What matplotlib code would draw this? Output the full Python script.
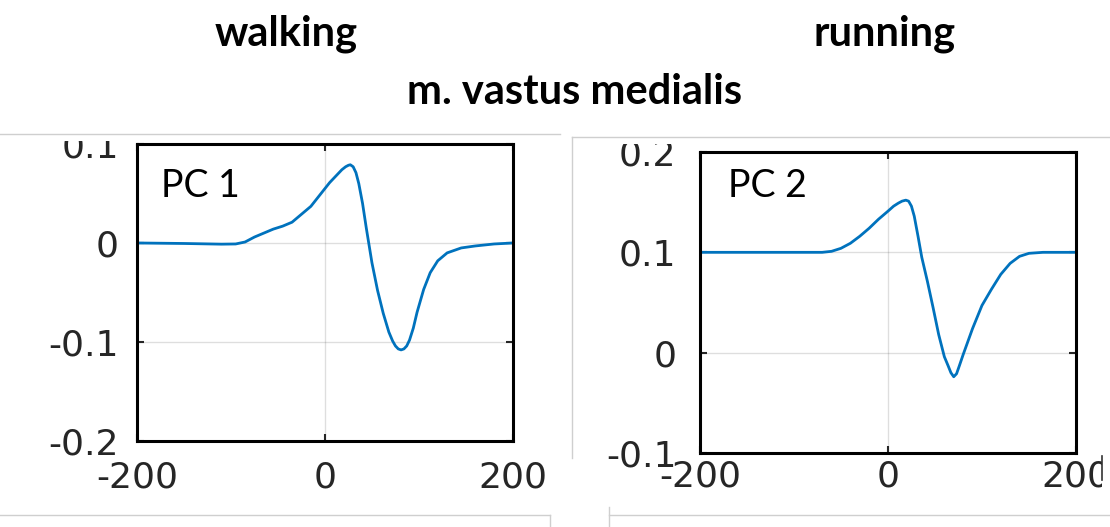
import matplotlib
matplotlib.use("Agg")
import matplotlib.pyplot as plt
from matplotlib.patches import Rectangle
from matplotlib.lines import Line2D

plt.rcParams["font.family"] = ["DejaVu Sans"]

# principal component waveforms, m. vastus medialis
pc1_x = [-200, -150, -110, -95, -85, -75, -65, -55, -45, -35, -25, -15, -5, 5, 12, 18, 22, 25,
         27, 30, 33, 36, 40, 44, 50, 56, 62, 68, 72, 75, 78, 81, 84, 87, 90, 94, 98, 105, 112,
         120, 130, 145, 160, 180, 200]
pc1_y = [0.0, -0.0005, -0.0012, -0.001, 0.001, 0.006, 0.010, 0.014, 0.017, 0.021, 0.029, 0.037,
         0.049, 0.061, 0.068, 0.074, 0.077, 0.0785, 0.079, 0.077, 0.071, 0.060, 0.040, 0.015,
         -0.020, -0.048, -0.071, -0.090, -0.099, -0.104, -0.107, -0.108, -0.107, -0.104, -0.098,
         -0.086, -0.070, -0.047, -0.030, -0.018, -0.010, -0.005, -0.003, -0.001, 0.0]

pc2_x = [-200, -150, -100, -70, -60, -50, -40, -30, -20, -10, 0, 6, 11, 15, 19, 22, 25, 28,
         32, 36, 42, 48, 54, 60, 64, 67, 70, 73, 76, 80, 85, 90, 100, 110, 120, 130, 140, 150,
         165, 180, 200]
pc2_y = [0.1, 0.1, 0.1, 0.1, 0.101, 0.104, 0.109, 0.116, 0.124, 0.133, 0.141, 0.146, 0.149,
         0.151, 0.152, 0.151, 0.146, 0.136, 0.116, 0.095, 0.071, 0.045, 0.018, -0.004, -0.013,
         -0.020, -0.024, -0.021, -0.013, -0.002, 0.011, 0.024, 0.047, 0.063, 0.078, 0.089,
         0.096, 0.099, 0.100, 0.100, 0.100]

pc1_yticks = [-0.2, -0.1, 0, 0.1]
pc1_ylabels = ["-0.2", "-0.1", "0", "0.1"]
pc2_yticks = [-0.1, 0, 0.1, 0.2]
pc2_ylabels = ["-0.1", "0", "0.1", "0.2"]
xticks = [-200, 0, 200]

line_col = "#0072BD"
dark = "#262626"

fig = plt.figure(figsize=(11.1, 5.27), dpi=100)
fig.patch.set_facecolor("white")

ax1 = fig.add_axes([0.1234, 0.1632, 0.3387, 0.5636])
ax2 = fig.add_axes([0.6306, 0.1404, 0.3387, 0.5712])


def style(ax, yticks, ylabels, ypad, xpad):
    ax.set_xlim(-200, 200)
    ax.set_xticks(xticks)
    ax.set_xticklabels([str(t) for t in xticks], family="DejaVu Sans")
    ax.set_yticks(yticks)
    ax.set_yticklabels(ylabels, family="DejaVu Sans")
    ax.set_ylim(yticks[0], yticks[-1])
    ax.grid(True, color=dark, alpha=0.15, lw=1.0)
    ax.set_axisbelow(True)
    for s in ax.spines.values():
        s.set_linewidth(2.2)
        s.set_color("black")
    ax.tick_params(direction="in", length=5, width=1.5, color=dark,
                   top=True, right=True, labelcolor=dark, labelsize=26)
    ax.tick_params(axis="y", pad=ypad)
    ax.tick_params(axis="x", pad=xpad)


ax1.plot(pc1_x, pc1_y, color=line_col, lw=2.0)
style(ax1, pc1_yticks, pc1_ylabels, 13, 14)
ax1.text(0.064, 0.822, "PC 1", transform=ax1.transAxes, fontsize=27,
         family="Lato", color="black")

ax2.plot(pc2_x, pc2_y, color=line_col, lw=2.0)
style(ax2, pc2_yticks, pc2_ylabels, 17, 5)
ax2.text(0.074, 0.85, "PC 2", transform=ax2.transAxes, fontsize=27,
         family="Lato", color="black")

# white strips that crop the edge tick labels
fig.add_artist(Rectangle((0, 1 - 141 / 527), 560 / 1110, 141 / 527,
                         transform=fig.transFigure, facecolor="white",
                         edgecolor="none", zorder=5))
fig.add_artist(Rectangle((572 / 1110, 1 - 144 / 527), 538 / 1110, 144 / 527,
                         transform=fig.transFigure, facecolor="white",
                         edgecolor="none", zorder=5))
fig.add_artist(Rectangle((1102 / 1110, 1 - 500 / 527), 8 / 1110, 50 / 527,
                         transform=fig.transFigure, facecolor="white",
                         edgecolor="none", zorder=5))


def px_line(xs, ys, col="#cfcfcf", lw=1.0):
    fig.add_artist(Line2D([x / 1110 for x in xs], [1 - y / 527 for y in ys],
                          transform=fig.transFigure, color=col, lw=lw, zorder=6))


px_line([0, 560], [134, 134])
px_line([572, 1110], [137, 137])
px_line([572, 572], [137, 458])
px_line([0, 550], [515, 515])
px_line([550, 550], [515, 527])
px_line([609, 1110], [515, 515])
px_line([609, 609], [507, 527])
px_line([1102, 1102], [456, 480], col="#333333", lw=1.2)

fig.text(286 / 1110, 1 - 45 / 527, "walking", ha="center", va="baseline",
         fontsize=30, fontweight="bold", family="Lato", zorder=10)
fig.text(885 / 1110, 1 - 45 / 527, "running", ha="center", va="baseline",
         fontsize=30, fontweight="bold", family="Lato", zorder=10)
fig.text(575 / 1110, 1 - 104 / 527, "m. vastus medialis", ha="center", va="baseline",
         fontsize=30, fontweight="bold", family="Lato", zorder=10)

fig.savefig("out.png", dpi=100, facecolor="white")
